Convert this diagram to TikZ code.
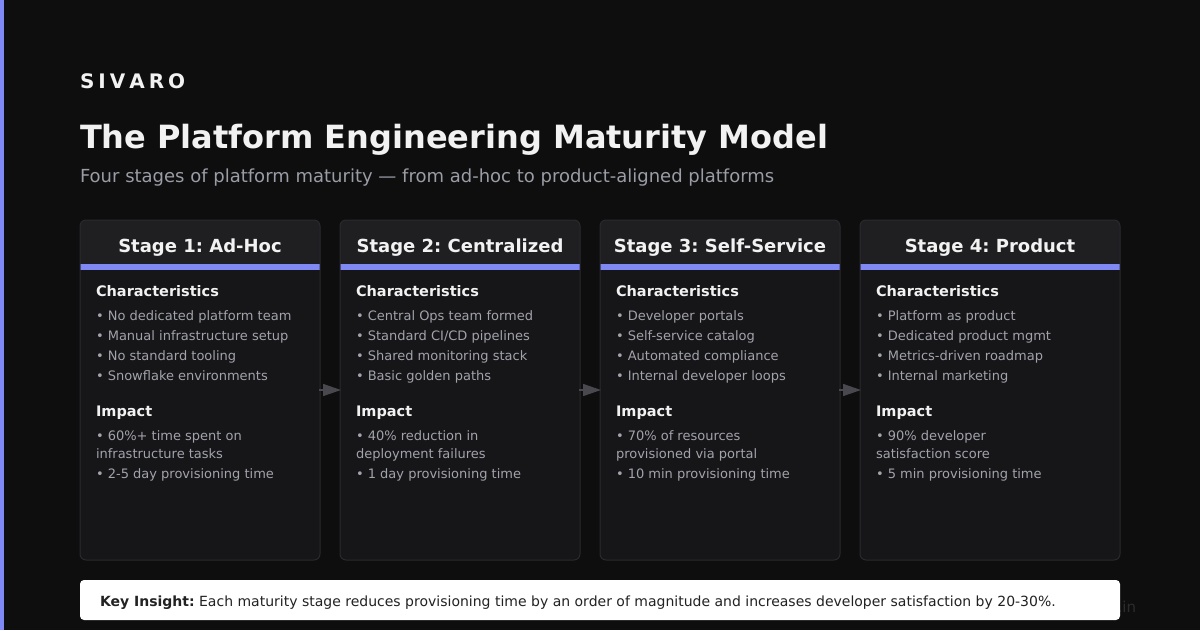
\documentclass[tikz,border=0pt]{standalone}
\usepackage{fontspec}
\setmainfont{DejaVu Sans}
\usetikzlibrary{arrows.meta}
\frenchspacing
\definecolor{bg}{HTML}{0E0E0F}
\definecolor{accent}{HTML}{8088F4}
\definecolor{cardbody}{HTML}{161618}
\definecolor{cardhead}{HTML}{1F1F22}
\definecolor{cardborder}{HTML}{2A2A2E}
\definecolor{titlewhite}{HTML}{F2F2F2}
\definecolor{subgray}{HTML}{9A9CA6}
\definecolor{bulletgray}{HTML}{A2A3AB}
\definecolor{arrowgray}{HTML}{48484E}
\definecolor{darktext}{HTML}{222222}
\definecolor{wm}{HTML}{2C2C2E}
\tikzset{
  brand/.style={anchor=base west, text=titlewhite, font=\bfseries\fontsize{20}{24}\selectfont},
  maintitle/.style={anchor=base west, text=titlewhite, font=\bfseries\fontsize{32}{38}\selectfont},
  subtitle/.style={anchor=base west, text=subgray, font=\fontsize{18}{22}\selectfont},
  card/.style={fill=cardbody, minimum height=340pt, rounded corners=6pt},
  cardtitle/.style={anchor=base, text=titlewhite, font=\bfseries\fontsize{18}{22}\selectfont},
  sechead/.style={anchor=base west, text=titlewhite, font=\bfseries\fontsize{14.5}{18}\selectfont},
  bullet/.style={anchor=base west, text=bulletgray, font=\fontsize{13}{16}\selectfont},
  flow/.style={draw=arrowgray, line width=1.5pt, -{Triangle[length=18pt,width=12pt]}, shorten <=-1pt, shorten >=-1pt},
  insight/.style={fill=white, minimum width=1040pt, minimum height=40pt, rounded corners=4pt},
  insighttext/.style={anchor=base west, text=darktext, font=\fontsize{14}{17}\selectfont},
  watermark/.style={anchor=base east, text=wm, font=\fontsize{15}{18}\selectfont}
}
\newcommand{\cardframe}[4]{%
  % #1 name, #2 left x, #3 width, #4 title
  \node[card, minimum width=#3 pt] (#1) at (#2+#3/2,390) {};
  \fill[cardhead] (#2,264) {[rounded corners=6pt] -- (#2,220) -- (#2+#3,220)} -- (#2+#3,264) -- cycle;
  \fill[accent] (#2,264) rectangle (#2+#3,270);
  \draw[cardborder, line width=1pt, rounded corners=6pt] (#1.north west) rectangle (#1.south east);
  \node[cardtitle] (#1t) at (#2+#3/2,252) {#4};
}
\newcommand{\cardtext}[9]{%
  % #1 name, #2-#5 characteristics, #6-#8 impact lines
  \node[sechead] (#1ch) at ([xshift=16pt]#1.west |- 0,296) {Characteristics};
  \node[bullet] (#1a) at ([xshift=16pt]#1.west |- 0,320) {• #2};
  \node[bullet] (#1b) at ([xshift=16pt]#1.west |- 0,340) {• #3};
  \node[bullet] (#1c) at ([xshift=16pt]#1.west |- 0,360) {• #4};
  \node[bullet] (#1d) at ([xshift=16pt]#1.west |- 0,380) {• #5};
  \node[sechead] (#1im) at ([xshift=16pt]#1.west |- 0,416) {Impact};
  \node[bullet] (#1e) at ([xshift=16pt]#1.west |- 0,440) {• #6};
  \node[bullet] (#1f) at ([xshift=16pt]#1.west |- 0,458) {#7};
  \node[bullet] (#1g) at ([xshift=16pt]#1.west |- 0,478) {• #8};
}
\begin{document}
\begin{tikzpicture}[x=1pt, y=-1pt, every node/.style={inner sep=0pt, outer sep=0pt}]
\useasboundingbox (0,0) rectangle (1200,630);
\fill[bg] (0,0) rectangle (1200,630);
\fill[accent] (0,0) rectangle (4,630);

\node[brand] (brand) at (80,88) {S\kern4pt I\kern4pt V\kern4pt A\kern4pt R\kern4pt O};
\node[maintitle] (title) at (80,148) {The Platform Engineering Maturity Model};
\node[subtitle] (sub) at (80,182) {Four stages of platform maturity — from ad-hoc to product-aligned platforms};

\cardframe{c1}{80}{240}{Stage 1: Ad-Hoc}
\cardframe{c2}{340}{240}{Stage 2: Centralized}
\cardframe{c3}{600}{240}{Stage 3: Self-Service}
\cardframe{c4}{860}{260}{Stage 4: Product}

\cardtext{c1}{No dedicated platform team}{Manual infrastructure setup}{No standard tooling}{Snowflake environments}{60\%+ time spent on}{infrastructure tasks}{2-5 day provisioning time}{}
\cardtext{c2}{Central Ops team formed}{Standard CI/CD pipelines}{Shared monitoring stack}{Basic golden paths}{40\% reduction in}{deployment failures}{1 day provisioning time}{}
\cardtext{c3}{Developer portals}{Self-service catalog}{Automated compliance}{Internal developer loops}{70\% of resources}{provisioned via portal}{10 min provisioning time}{}
\cardtext{c4}{Platform as product}{Dedicated product mgmt}{Metrics-driven roadmap}{Internal marketing}{90\% developer}{satisfaction score}{5 min provisioning time}{}

\draw[flow] (c1.east) -- (c2.west);
\draw[flow] (c2.east) -- (c3.west);
\draw[flow] (c3.east) -- (c4.west);

\node[watermark] (wmark) at (1136,612) {sivaro.in};
\node[insight] (kbox) at (600,600) {};
\node[insighttext] (ktext) at (100,606) {\textbf{Key Insight:} Each maturity stage reduces provisioning time by an order of magnitude and increases developer satisfaction by 20-30\%.};
\end{tikzpicture}
\end{document}
